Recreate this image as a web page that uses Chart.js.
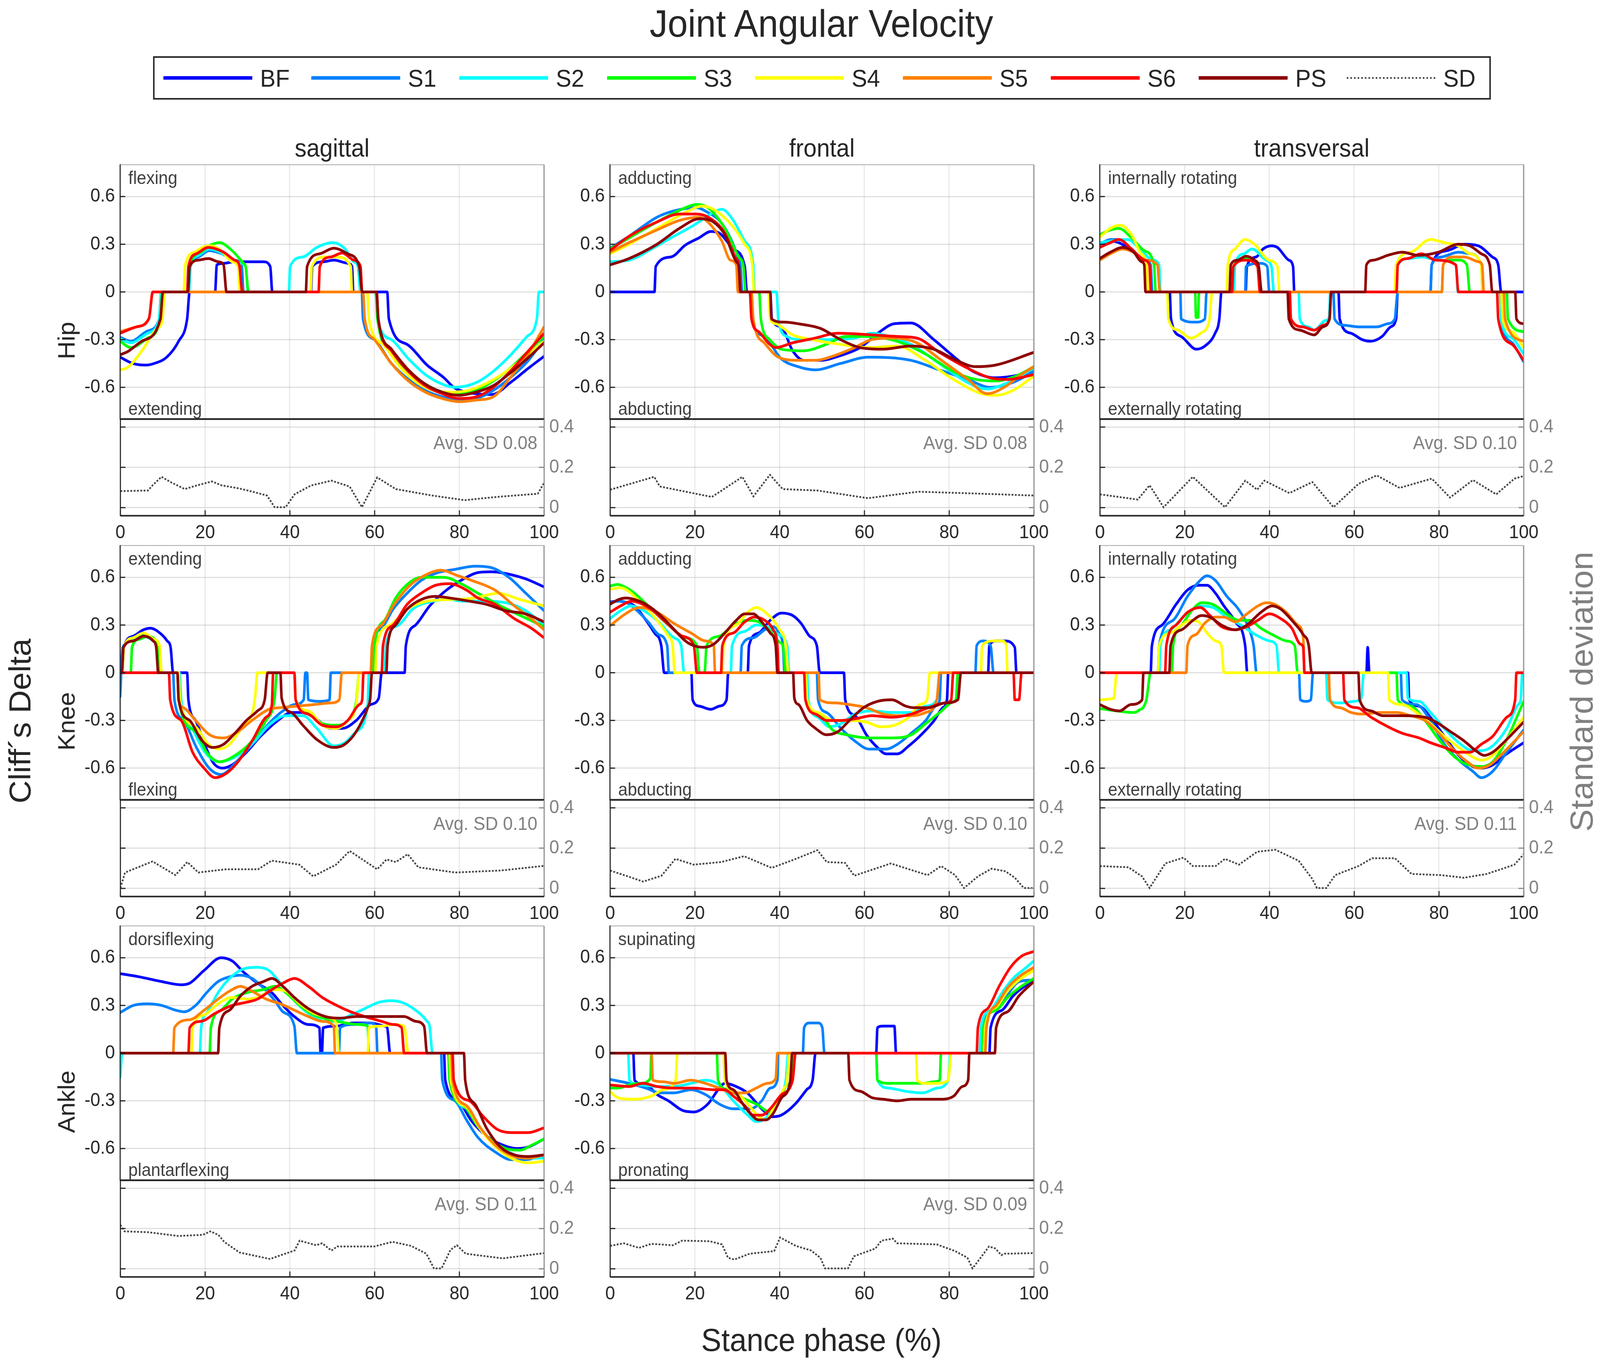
<!DOCTYPE html>
<html><head><meta charset="utf-8">
<script src="https://cdn.jsdelivr.net/npm/chart.js@4.4.0/dist/chart.umd.min.js"></script>
<style>
html,body{margin:0;padding:0;background:#fff;overflow:hidden;}
#page{position:relative;width:4338px;height:3495px;overflow:hidden;background:#fff;font-family:"Liberation Sans",Arial,Helvetica,sans-serif;color:#262626;transform-origin:0 0;}
.abs{position:absolute;white-space:nowrap;line-height:1;}
canvas{position:absolute;}
</style></head><body><div id="page"></div>
<script>
// ---------------- DATA ----------------
const seriesNames = ['BF','S1','S2','S3','S4','S5','S6','PS'];
const xTicks = [0,20,40,60,80,100];
const yTicksMain = [-0.6,-0.3,0,0.3,0.6];
const yTicksSD = [0,0.2,0.4];
const columnNames = ['sagittal','frontal','transversal'];
const rowNames = ['Hip','Knee','Ankle'];
const directionTop = ['flexing','adducting','internally rotating','extending','adducting','internally rotating','dorsiflexing','supinating'];
const directionBottom = ['extending','abducting','externally rotating','flexing','abducting','externally rotating','plantarflexing','pronating'];
const avgSD = ['0.08','0.08','0.10','0.10','0.10','0.11','0.11','0.09'];

// Hip sagittal
const hs_BF = [[0,-0.41],[3,-0.45],[6,-0.46],[8,-0.45],[11,-0.41],[13.8,-0.31],[15.8,-0.17],[16.4,0],[22.4,0],[22.8,0.17],[24.5,0.18],[27,0.19],[31,0.19],[33.8,0.19],[35.4,0.16],[35.9,0],[45,0],[45.3,0.16],[48,0.19],[50.4,0.2],[53.7,0.18],[54.7,0.16],[55,0],[63,0],[63.4,-0.17],[67.7,-0.33],[72.4,-0.46],[76.4,-0.54],[78.7,-0.6],[81.7,-0.63],[87.7,-0.645],[92.3,-0.565],[96.3,-0.48],[100,-0.405]];
const hs_S1 = [[0,-0.285],[2.5,-0.31],[6.5,-0.245],[9.2,-0.17],[9.7,0],[16.2,0],[16.6,0.16],[18.5,0.22],[21,0.26],[24,0.24],[27,0.2],[28.7,0.16],[29.1,0],[57,0],[57.3,-0.17],[60,-0.3],[64,-0.45],[68,-0.55],[72,-0.62],[76,-0.66],[80,-0.68],[84,-0.67],[88,-0.62],[92,-0.54],[96,-0.44],[100,-0.3]];
const hs_S2 = [[0,-0.295],[2.5,-0.32],[6.5,-0.26],[9.2,-0.17],[9.7,0],[16.2,0],[16.6,0.16],[18.5,0.23],[21,0.27],[25,0.23],[28.5,0.18],[29.6,0.16],[30.2,0],[39.8,0],[40.1,0.16],[43.1,0.22],[46.4,0.28],[50.1,0.31],[53.1,0.27],[55.1,0.19],[56.1,0.16],[56.7,0],[60.3,0],[60.7,-0.17],[64,-0.3],[68,-0.42],[72,-0.52],[76,-0.58],[79,-0.6],[84,-0.57],[88,-0.5],[92,-0.4],[96,-0.28],[98.3,-0.17],[98.8,0],[100,0]];
const hs_S3 = [[0,-0.31],[2.5,-0.35],[6.5,-0.29],[9.5,-0.17],[10,0],[16,0],[16.4,0.16],[19,0.25],[21,0.29],[23.4,0.31],[26.4,0.26],[29.1,0.18],[29.6,0.16],[30.3,0],[60.3,0],[60.7,-0.17],[64,-0.38],[68,-0.5],[72,-0.58],[76,-0.63],[80,-0.64],[84,-0.62],[88,-0.56],[92,-0.48],[96,-0.38],[100,-0.28]];
const hs_S4 = [[0,-0.49],[1.8,-0.475],[5,-0.375],[8.5,-0.235],[10,-0.17],[10.5,0],[15,0],[15.3,0.16],[17.5,0.25],[19.8,0.285],[21.5,0.29],[23.8,0.26],[26.4,0.19],[27.8,0.16],[28.3,0],[44.9,0],[45.2,0.16],[48.4,0.22],[51.1,0.22],[54.4,0.16],[54.7,0],[58.3,0],[58.7,-0.17],[62,-0.33],[66,-0.47],[70,-0.57],[74,-0.62],[78,-0.63],[82,-0.62],[86,-0.58],[90,-0.52],[95,-0.42],[100,-0.31]];
const hs_S5 = [[0,-0.25],[3.8,-0.22],[6.8,-0.167],[7.7,0],[57.3,0],[57.7,-0.17],[60,-0.3],[64,-0.45],[68,-0.56],[72,-0.63],[76,-0.67],[80,-0.69],[84,-0.68],[88,-0.66],[92,-0.54],[96,-0.4],[100,-0.22]];
const hs_S6 = [[0,-0.26],[3.8,-0.22],[6.8,-0.167],[7.7,0],[15.8,0],[16.1,0.16],[18,0.24],[20.8,0.28],[24.4,0.25],[27,0.2],[28.1,0.17],[28.8,0],[46.8,0],[47.1,0.16],[49.7,0.22],[52.4,0.245],[55.1,0.2],[56.7,0.16],[57.1,0],[60.5,0],[60.9,-0.17],[64,-0.37],[68,-0.5],[72,-0.59],[76,-0.64],[80,-0.67],[84,-0.66],[88,-0.6],[92,-0.5],[96,-0.38],[100,-0.26]];
const hs_PS = [[0,-0.395],[1.8,-0.375],[5.1,-0.31],[9.5,-0.17],[10.1,0],[16,0],[16.4,0.16],[18.5,0.2],[20.8,0.21],[23.1,0.19],[24.4,0.17],[25.1,0],[43.8,0],[44.1,0.16],[47.1,0.24],[50.4,0.275],[53.7,0.24],[56.4,0.16],[57.1,0],[60.5,0],[60.9,-0.17],[64,-0.36],[68,-0.49],[72,-0.58],[76,-0.63],[80,-0.65],[84,-0.63],[88,-0.59],[92,-0.51],[96,-0.42],[100,-0.32]];
const hs_SD = [[0,0.082],[6.5,0.085],[7.6,0.111],[9.7,0.153],[12,0.125],[15.2,0.092],[18,0.11],[21.6,0.13],[23.8,0.111],[28.1,0.095],[31,0.08],[34.6,0.06],[36.4,0.002],[39,0.002],[41.1,0.066],[45,0.11],[49.8,0.134],[54.1,0.105],[57,0.002],[60.6,0.15],[65,0.092],[73.6,0.06],[81.2,0.037],[88.7,0.053],[98.5,0.069],[100,0.124]];

// Hip frontal
const hf_BF = [[0,0],[10.5,0],[10.8,0.16],[14.4,0.22],[17.8,0.295],[21,0.34],[23.8,0.38],[25.8,0.37],[29.1,0.27],[31.8,0.16],[32.3,0],[37.8,0],[38.2,-0.17],[40.4,-0.22],[43.1,-0.37],[45.7,-0.43],[49.7,-0.43],[54.4,-0.4],[59,-0.35],[63.7,-0.25],[67,-0.2],[71,-0.195],[76.4,-0.3],[81.7,-0.42],[85.7,-0.5],[91,-0.54],[95,-0.53],[100,-0.5]];
const hf_S1 = [[0,0.275],[4.5,0.35],[11.1,0.47],[15.1,0.51],[20.4,0.53],[23.1,0.5],[25.8,0.45],[28.4,0.34],[30.4,0.2],[30.8,0.16],[31.2,0],[33,0],[33.4,-0.17],[36.4,-0.28],[40.4,-0.42],[44.4,-0.47],[48.4,-0.49],[54.4,-0.45],[61,-0.41],[71,-0.43],[77.7,-0.49],[84.4,-0.55],[89.7,-0.6],[95,-0.57],[100,-0.5]];
const hf_S2 = [[0,0.19],[4.5,0.2],[11.1,0.29],[14.4,0.34],[19.8,0.42],[24.4,0.5],[26.4,0.52],[29.1,0.45],[31.8,0.32],[33.8,0.17],[34.1,0],[39.3,0],[39.7,-0.17],[41.7,-0.28],[45.7,-0.3],[51,-0.3],[57.7,-0.29],[61.7,-0.26],[64.4,-0.27],[71,-0.33],[77.7,-0.45],[84.4,-0.57],[89,-0.61],[93,-0.58],[100,-0.48]];
const hf_S3 = [[0,0.27],[4.5,0.34],[11.1,0.44],[17.8,0.53],[20.4,0.55],[23.1,0.53],[27.1,0.4],[30.4,0.22],[31.5,0.16],[32,0],[35.2,0],[35.6,-0.17],[37.7,-0.3],[40.4,-0.36],[45.7,-0.37],[51,-0.33],[55.7,-0.28],[61,-0.28],[67.7,-0.31],[74.4,-0.39],[81,-0.5],[86.3,-0.55],[91,-0.56],[95.7,-0.53],[100,-0.47]];
const hf_S4 = [[0,0.24],[4.5,0.3],[11.1,0.4],[17.8,0.5],[21.8,0.54],[24.4,0.52],[28.4,0.43],[31.8,0.3],[33.6,0.17],[34,0],[37.4,0],[37.8,-0.17],[39.1,-0.2],[43.1,-0.27],[47.7,-0.3],[54.4,-0.33],[61,-0.35],[67.7,-0.34],[74.4,-0.43],[81,-0.55],[87.7,-0.64],[91,-0.65],[95,-0.62],[100,-0.53]];
const hf_S5 = [[0,0.25],[4.5,0.31],[11.1,0.39],[16.4,0.45],[21.1,0.47],[23.1,0.44],[26.4,0.32],[28.4,0.2],[29.8,0.17],[30.2,0],[33.4,0],[33.8,-0.17],[36.4,-0.32],[39.7,-0.41],[44.4,-0.43],[48.4,-0.43],[53,-0.4],[57.7,-0.35],[61.7,-0.3],[67,-0.29],[72.4,-0.32],[77.7,-0.42],[84.4,-0.55],[89,-0.64],[93,-0.6],[97,-0.52],[100,-0.47]];
const hf_S6 = [[0,0.26],[4.5,0.35],[11.1,0.44],[16.4,0.49],[20.4,0.49],[23.8,0.46],[27.1,0.37],[29.5,0.22],[30.4,0.16],[30.8,0],[33,0],[33.4,-0.17],[35.1,-0.25],[37.7,-0.33],[39.1,-0.35],[43.1,-0.32],[48.4,-0.29],[53.7,-0.26],[61.7,-0.27],[67.7,-0.28],[72.4,-0.29],[77.7,-0.38],[84.4,-0.48],[89.7,-0.54],[94,-0.55],[100,-0.52]];
const hf_PS = [[0,0.17],[4.5,0.21],[11.1,0.3],[16.4,0.4],[21.1,0.46],[24.4,0.44],[27.1,0.36],[29.8,0.19],[30.4,0.16],[30.8,0],[37.8,0],[38.1,-0.17],[41.1,-0.19],[44.4,-0.2],[49.7,-0.23],[54.4,-0.3],[59,-0.35],[64.4,-0.36],[71,-0.34],[76.4,-0.36],[81.7,-0.43],[86.3,-0.47],[91,-0.46],[100,-0.38]];
const hf_SD = [[0,0.089],[10.4,0.153],[11.7,0.105],[24,0.053],[31.2,0.153],[33.8,0.056],[37.7,0.163],[40.7,0.092],[48.9,0.085],[60.8,0.047],[72.7,0.079],[83.5,0.072],[100,0.06]];

// Hip transversal
const ht_BF = [[0,0.3],[2.5,0.32],[4.5,0.31],[7.5,0.26],[10.5,0.2],[11.8,0.17],[12.2,0],[16.5,0],[16.8,-0.17],[19.2,-0.28],[22.8,-0.36],[24.8,-0.34],[27.2,-0.26],[28.2,-0.17],[28.7,0],[34.4,0],[34.7,0.16],[36.9,0.22],[38.5,0.27],[40.5,0.29],[41.9,0.28],[44.6,0.2],[45.6,0.16],[45.9,0],[56.3,0],[56.6,-0.17],[59.3,-0.26],[61.9,-0.3],[63.9,-0.31],[66.6,-0.28],[68.6,-0.22],[69.9,-0.17],[70.3,0],[78,0],[78.3,0.17],[82,0.26],[86,0.3],[89.3,0.29],[92.6,0.22],[94,0.17],[94.7,0],[100,0]];
const ht_S1 = [[0,0.3],[2.5,0.33],[4.5,0.33],[7.5,0.27],[10.5,0.2],[12,0.17],[12.4,0],[19,0],[19.2,-0.17],[22.5,-0.19],[24.8,-0.17],[25.2,0],[34.3,0],[34.5,0.16],[37.9,0.18],[39.5,0.16],[40,0],[55.1,0],[55.4,-0.17],[57.9,-0.21],[61.3,-0.22],[65.3,-0.22],[67.9,-0.2],[69.6,-0.17],[70.3,0],[78,0],[78.3,0.17],[80.6,0.22],[84.6,0.25],[87.3,0.24],[90,0.17],[90.3,0],[94.4,0],[94.7,-0.17],[97.3,-0.32],[100,-0.44]];
const ht_S2 = [[0,0.31],[2.5,0.32],[6.5,0.33],[9.5,0.27],[12.5,0.2],[14,0.17],[14.3,0],[31.6,0],[31.9,0.17],[34,0.24],[35.9,0.27],[39.2,0.2],[40.5,0.16],[41.1,0],[46.9,0],[47.2,-0.17],[49.2,-0.22],[50.6,-0.24],[53.2,-0.18],[54.1,-0.16],[54.4,0],[70,0],[70.3,0.17],[73,0.21],[76,0.22],[80,0.2],[84,0.17],[84.5,0],[94.4,0],[94.7,-0.17],[97.3,-0.29],[100,-0.39]];
const ht_S3 = [[0,0.36],[2.5,0.39],[4.5,0.4],[7.5,0.34],[10.5,0.26],[12.8,0.17],[13.2,0],[22.5,0],[22.7,-0.16],[23.2,-0.16],[23.4,0],[31.2,0],[31.5,0.16],[34.5,0.21],[36.5,0.19],[37.5,0.16],[37.9,0],[80.7,0],[81,0.17],[82.7,0.2],[84.6,0.2],[86.6,0.17],[87.3,0],[96,0],[96.3,-0.17],[100,-0.25]];
const ht_S4 = [[0,0.344],[2.5,0.4],[4.8,0.42],[7.5,0.36],[9.5,0.25],[11,0.17],[11.5,0],[15.9,0],[16.2,-0.17],[18.5,-0.24],[21.5,-0.29],[23.8,-0.26],[25.9,-0.17],[26.5,0],[29.9,0],[30.2,0.17],[31.9,0.27],[34.2,0.33],[36.5,0.3],[39.9,0.2],[41.9,0.16],[42.4,0],[69.6,0],[69.9,0.17],[73.3,0.25],[78,0.33],[81.3,0.31],[84.6,0.29],[87.3,0.24],[90,0.17],[90.3,0],[94.7,0],[95,-0.17],[97.3,-0.25],[100,-0.35]];
const ht_S5 = [[0,0.2],[2.5,0.24],[5.4,0.27],[8,0.25],[11,0.2],[13.6,0.17],[14.2,0],[80.7,0],[81,0.17],[83.3,0.22],[86,0.22],[89.3,0.19],[90.2,0.17],[90.6,0],[95.3,0],[95.6,-0.17],[100,-0.31]];
const ht_S6 = [[0,0.28],[2.5,0.31],[4.5,0.33],[7.5,0.27],[10.5,0.2],[11.7,0.17],[12.1,0],[31.2,0],[31.5,0.16],[34.5,0.2],[37.2,0.16],[37.8,0],[44.8,0],[45.1,-0.17],[47.9,-0.22],[50.6,-0.24],[52.6,-0.21],[54.2,-0.17],[54.6,0],[70,0],[70.3,0.17],[72.6,0.21],[75.9,0.24],[79.3,0.2],[84,0.17],[84.6,0],[93.7,0],[94,-0.17],[97.3,-0.33],[100,-0.43]];
const ht_PS = [[0,0.21],[2.5,0.25],[5.4,0.28],[8,0.25],[9.8,0.19],[10.5,0.17],[10.8,0],[30.6,0],[30.9,0.17],[32.5,0.2],[34.5,0.225],[36.5,0.2],[37.5,0.16],[38.2,0],[44.3,0],[44.6,-0.17],[47.2,-0.24],[50.6,-0.27],[52.6,-0.22],[54.2,-0.17],[54.6,0],[62.6,0],[62.9,0.17],[64.6,0.2],[67.9,0.23],[71.3,0.25],[75.3,0.23],[79.9,0.25],[84.6,0.3],[87.3,0.29],[90,0.24],[92,0.17],[92.6,0],[98,0],[98.3,-0.17],[100,-0.2]];
const ht_SD = [[0,0.066],[8.9,0.04],[11.7,0.111],[15,0.002],[21.9,0.153],[29.5,0.002],[34.3,0.134],[37.1,0.089],[38.8,0.134],[44.7,0.072],[50.1,0.127],[55.1,0.002],[61,0.118],[65.3,0.16],[70.7,0.098],[78.3,0.144],[82.6,0.05],[88,0.137],[93.5,0.066],[97.8,0.144],[100,0.157]];

// Knee sagittal
const ks_BF = [[0,0],[0.5,0],[0.9,0.16],[3.1,0.23],[5.5,0.27],[7.1,0.28],[9.8,0.24],[11.1,0.2],[11.9,0.16],[12.5,0],[15.8,0],[16.1,-0.17],[17.8,-0.3],[19.8,-0.44],[21.8,-0.56],[24.1,-0.6],[26.4,-0.58],[29.8,-0.5],[33.1,-0.4],[37.7,-0.29],[40.4,-0.25],[43.1,-0.25],[45.7,-0.28],[49.7,-0.35],[52.4,-0.35],[55.7,-0.3],[59.1,-0.2],[61,-0.16],[61.7,0],[67.1,0],[67.4,0.17],[69.7,0.3],[73,0.42],[77,0.52],[81,0.59],[84.4,0.63],[87.7,0.635],[91.7,0.62],[95.7,0.59],[100,0.54]];
const ks_S1 = [[0,-0.15],[0.6,0.16],[3.1,0.2],[5.5,0.24],[7.8,0.2],[8.6,0.16],[9,0],[12.5,0],[12.8,-0.17],[15,-0.3],[18,-0.47],[21,-0.6],[23.8,-0.64],[27.8,-0.55],[31.1,-0.45],[35.1,-0.32],[38.4,-0.24],[41.1,-0.2],[43.3,-0.17],[43.7,0],[44.1,0],[44.4,-0.17],[47.1,-0.18],[49.4,-0.17],[49.7,0],[59.4,0],[59.7,0.17],[61.7,0.28],[64.4,0.4],[67.7,0.5],[71,0.58],[75,0.63],[79,0.65],[83.7,0.67],[87.7,0.66],[91.7,0.6],[95.7,0.5],[100,0.39]];
const ks_S2 = [[0,0],[0.5,0],[0.9,0.16],[3.1,0.21],[5.5,0.23],[8,0.2],[9.2,0.16],[9.6,0],[14,0],[14.4,-0.17],[17,-0.35],[20,-0.5],[23.4,-0.56],[27.1,-0.53],[31.1,-0.45],[35.1,-0.33],[39.1,-0.27],[43.1,-0.27],[46.4,-0.35],[50.4,-0.46],[53,-0.44],[55.7,-0.37],[58.4,-0.2],[58.7,0],[62.4,0],[62.7,0.17],[65.7,0.3],[69,0.4],[73.7,0.45],[77.7,0.46],[81,0.45],[85,0.45],[91,0.44],[95.7,0.39],[100,0.3]];
const ks_S3 = [[0,0],[2.5,0],[2.8,0.16],[4.5,0.21],[6.5,0.23],[8.5,0.2],[9.1,0.16],[9.5,0],[13.5,0],[13.8,-0.17],[17.8,-0.37],[20.4,-0.5],[23.4,-0.56],[27.1,-0.52],[31.1,-0.43],[34.4,-0.3],[36.4,-0.17],[37,0],[41.1,0],[41.4,-0.17],[44.4,-0.25],[47.7,-0.32],[51,-0.33],[53.7,-0.3],[55.7,-0.18],[56.4,0],[59.7,0],[60,0.17],[62.4,0.33],[65,0.47],[68.4,0.57],[71,0.6],[76.4,0.6],[80.4,0.56],[84.4,0.5],[89.7,0.42],[94.4,0.36],[100,0.29]];
const ks_S4 = [[0,0],[0.5,0],[0.9,0.16],[3.1,0.22],[5.5,0.25],[8,0.21],[9.3,0.17],[9.8,0],[13.8,0],[14.1,-0.17],[17.8,-0.34],[20.8,-0.45],[23.4,-0.48],[25.8,-0.45],[29.1,-0.33],[31.1,-0.26],[31.8,-0.16],[32.4,0],[41.1,0],[41.4,-0.17],[44.4,-0.24],[47.7,-0.33],[51,-0.35],[53.7,-0.3],[55.7,-0.2],[56.4,0],[60.2,0],[60.5,0.17],[63.7,0.3],[67.7,0.4],[72.4,0.45],[77.7,0.46],[83.7,0.47],[89,0.5],[94.4,0.46],[100,0.42]];
const ks_S5 = [[0,0],[13.5,0],[13.8,-0.17],[15,-0.22],[17.8,-0.3],[21.1,-0.39],[24.4,-0.41],[27.8,-0.37],[31.1,-0.3],[35.1,-0.23],[37.7,-0.22],[41.7,-0.21],[45.8,-0.2],[49.7,-0.19],[51.7,-0.17],[52.3,0],[59.1,0],[59.4,0.17],[61.7,0.3],[64.4,0.42],[68.4,0.55],[71.7,0.61],[75.7,0.645],[79.7,0.61],[83,0.58],[88.4,0.52],[93,0.42],[97,0.34],[100,0.27]];
const ks_S6 = [[0,0],[11.5,0],[11.8,-0.17],[14.4,-0.3],[17.1,-0.5],[19.8,-0.6],[22.4,-0.66],[25.2,-0.63],[27.8,-0.56],[31.1,-0.43],[34.4,-0.28],[35.8,-0.2],[36.1,0],[41.1,0],[41.4,-0.17],[44.4,-0.26],[47.7,-0.33],[51,-0.34],[53.7,-0.3],[56.4,-0.2],[57.1,-0.17],[57.4,0],[61.7,0],[62,0.17],[64.4,0.3],[67.7,0.43],[71,0.5],[74.4,0.55],[77.7,0.56],[81.7,0.52],[84.4,0.47],[88.4,0.43],[93,0.34],[97,0.28],[100,0.22]];
const ks_PS = [[0,0],[0.4,0],[0.8,0.16],[3.1,0.2],[5.5,0.23],[7.8,0.2],[8.5,0.16],[9,0],[13.5,0],[13.8,-0.17],[16.4,-0.3],[19.1,-0.42],[21.8,-0.47],[24.4,-0.45],[27.1,-0.38],[29.8,-0.3],[32.4,-0.24],[34.1,-0.17],[34.8,0],[37.8,0],[38.1,-0.16],[40.4,-0.25],[43.1,-0.33],[46.4,-0.42],[50.4,-0.47],[53,-0.45],[55.7,-0.37],[58.4,-0.22],[59,-0.16],[59.4,0],[62.8,0],[63.1,0.17],[65,0.3],[67.7,0.4],[71,0.46],[74.4,0.48],[77.7,0.47],[82.4,0.45],[86.4,0.43],[91,0.39],[95.7,0.37],[100,0.32]];
const ks_SD = [[0,0.002],[1.1,0.079],[7.6,0.134],[13,0.066],[15.8,0.131],[18.4,0.079],[24.9,0.095],[32.5,0.095],[35.7,0.138],[42.2,0.118],[45.5,0.06],[50.9,0.118],[54.1,0.186],[60.6,0.095],[62.8,0.144],[65,0.131],[67.8,0.17],[70.3,0.105],[79,0.079],[89.8,0.089],[100,0.112]];

// Knee frontal
const kf_BF = [[0,0.445],[2,0.45],[4,0.44],[5.8,0.42],[8.5,0.33],[10.5,0.25],[12.1,0.17],[12.8,0],[19.2,0],[19.5,-0.17],[21.1,-0.21],[23.8,-0.23],[25.8,-0.21],[27.5,-0.17],[27.9,0],[32.5,0],[32.8,0.17],[35.1,0.25],[37.8,0.33],[40.5,0.375],[43.1,0.36],[45.1,0.31],[47.1,0.23],[48.8,0.17],[49.5,0],[55.2,0],[55.5,-0.17],[57.8,-0.27],[60.5,-0.39],[63.1,-0.47],[65.1,-0.51],[67.8,-0.51],[70.5,-0.46],[73.8,-0.38],[76.5,-0.3],[78.5,-0.22],[79.5,-0.17],[79.8,0],[89.2,0],[89.5,0.17],[91.1,0.2],[93.1,0.2],[95.5,0.16],[95.9,0],[100,0]];
const kf_S1 = [[0,0.44],[2,0.45],[4,0.44],[6,0.4],[9,0.32],[11.5,0.24],[13.5,0.17],[13.9,0],[30.8,0],[31.1,0.17],[33.8,0.22],[36.5,0.27],[38.5,0.29],[40,0.24],[40.8,0.17],[41.2,0],[48.8,0],[49.1,-0.17],[51.1,-0.25],[54.5,-0.35],[57.8,-0.43],[61.1,-0.48],[65.1,-0.48],[67.8,-0.45],[71.1,-0.38],[74.5,-0.3],[77.1,-0.2],[77.8,-0.17],[78.1,0],[86.2,0],[86.5,0.17],[88.1,0.2],[89.8,0.17],[90.5,0],[100,0]];
const kf_S2 = [[0,0.34],[2.5,0.39],[5,0.42],[8,0.39],[11.1,0.33],[15.1,0.22],[16.8,0.17],[17.5,0],[28.5,0],[28.8,0.17],[31.8,0.26],[34.5,0.3],[37.1,0.29],[39.8,0.24],[41.8,0.17],[42.3,0],[46.5,0],[46.8,-0.17],[49.1,-0.28],[51.8,-0.34],[54.5,-0.32],[57.8,-0.26],[61.8,-0.24],[66.5,-0.25],[71.1,-0.25],[74.5,-0.21],[77.1,-0.17],[77.8,0],[100,0]];
const kf_S3 = [[0,0.545],[1.8,0.555],[3.5,0.54],[5.8,0.5],[9.8,0.4],[13.8,0.3],[17.8,0.22],[20.5,0.17],[21.1,0],[22.3,0],[22.8,0.17],[25.8,0.23],[29.1,0.3],[32.5,0.33],[35.1,0.32],[37.8,0.26],[40.1,0.19],[40.8,0.17],[41.5,0],[46.2,0],[46.5,-0.17],[49.8,-0.27],[52.5,-0.36],[55.8,-0.39],[61.1,-0.41],[66.5,-0.41],[71.1,-0.39],[74.5,-0.32],[77.8,-0.25],[81.1,-0.18],[81.6,-0.17],[82.1,0],[100,0]];
const kf_S4 = [[0,0.525],[2.5,0.535],[4.5,0.51],[6.5,0.46],[10.5,0.35],[13.8,0.23],[14.8,0.17],[15.3,0],[26.5,0],[26.8,0.17],[29.8,0.3],[32.5,0.38],[34.5,0.41],[37.1,0.37],[39.8,0.28],[41.5,0.17],[42.1,0],[46.2,0],[46.5,-0.17],[49.1,-0.25],[52.5,-0.3],[55.8,-0.3],[60.5,-0.31],[63.8,-0.34],[67.1,-0.33],[70.5,-0.28],[73.1,-0.2],[74.8,-0.17],[75.5,0],[87.5,0],[87.8,0.17],[90.5,0.2],[92.5,0.2],[93.5,0.17],[93.8,0],[100,0]];
const kf_S5 = [[0,0.295],[3.1,0.36],[5.5,0.4],[7.1,0.41],[11.1,0.38],[15.1,0.31],[19.1,0.25],[22.5,0.2],[24.5,0.17],[24.8,0],[49.2,0],[49.5,-0.17],[53.1,-0.19],[56.5,-0.2],[60.5,-0.22],[64.5,-0.26],[68.5,-0.27],[71.1,-0.27],[74.5,-0.25],[77.1,-0.17],[77.8,0],[100,0]];
const kf_S6 = [[0,0.38],[2.5,0.42],[5.1,0.45],[9.1,0.41],[13.1,0.32],[17.1,0.23],[19.8,0.17],[20.5,0],[26.2,0],[26.5,0.17],[29.1,0.25],[31.8,0.32],[34.1,0.35],[36.5,0.33],[38.5,0.27],[39.5,0.17],[39.8,0],[45.8,0],[46.1,-0.17],[48.5,-0.26],[51.1,-0.3],[54.5,-0.3],[57.8,-0.29],[61.8,-0.27],[66.5,-0.28],[71.1,-0.26],[75.1,-0.22],[79.1,-0.19],[80.5,-0.17],[81,0],[95.2,0],[95.5,-0.17],[96.5,-0.17],[97.1,0],[100,0]];
const kf_PS = [[0,0.43],[2,0.46],[3.8,0.47],[7.8,0.44],[11.1,0.38],[14.5,0.29],[17.8,0.2],[19.8,0.17],[22.1,0.16],[24.5,0.18],[27.1,0.25],[29.8,0.33],[31.8,0.37],[33.8,0.37],[35.8,0.32],[37.8,0.25],[39.1,0.17],[39.5,0],[43.2,0],[43.5,-0.16],[44.5,-0.2],[46.5,-0.3],[48.5,-0.35],[51.1,-0.39],[53.8,-0.37],[56.5,-0.3],[59.8,-0.22],[63.1,-0.18],[66.5,-0.17],[69.8,-0.21],[71.8,-0.22],[75.1,-0.22],[79.1,-0.19],[82.1,-0.17],[82.8,0],[100,0]];
const kf_SD = [[0,0.089],[7.8,0.034],[12.1,0.063],[15.4,0.147],[19.7,0.118],[26.2,0.131],[31.6,0.16],[38.1,0.102],[43.5,0.144],[48.9,0.19],[51.1,0.131],[55.4,0.127],[57.6,0.063],[66.2,0.124],[74.9,0.066],[78.1,0.111],[81.4,0.066],[83.5,0.002],[86.8,0.06],[90,0.098],[93.3,0.085],[95.5,0.053],[97.6,0.002],[100,0.002]];

// Knee transversal
const kt_BF = [[0,0],[12,0],[12.3,0.17],[14.7,0.3],[18,0.43],[20.7,0.52],[23.3,0.55],[25.3,0.55],[27.3,0.5],[29.3,0.42],[32,0.32],[34.3,0.17],[34.8,0],[62.9,0],[63.2,0.16],[63.6,0],[72.7,0],[73,-0.17],[75.3,-0.21],[78,-0.28],[81.3,-0.4],[84.7,-0.52],[88,-0.59],[90,-0.6],[92.7,-0.58],[96,-0.51],[100,-0.44]];
const kt_S1 = [[0,0],[13.7,0],[14,0.17],[17.3,0.33],[20.7,0.48],[23.3,0.57],[25.3,0.61],[27.3,0.58],[30,0.48],[32.7,0.4],[35.3,0.27],[36.3,0.17],[37,0],[47,0],[47.3,-0.17],[48.7,-0.18],[49.8,-0.17],[50.3,0],[71,0],[71.3,-0.17],[74.7,-0.2],[78,-0.3],[81.3,-0.45],[84.7,-0.55],[88,-0.62],[90,-0.66],[92.7,-0.62],[96,-0.5],[100,-0.36]];
const kt_S2 = [[0,0],[14,0],[14.3,0.17],[16.7,0.27],[20,0.36],[24,0.42],[26.7,0.41],[30,0.35],[33.3,0.3],[36.7,0.24],[40,0.2],[41.7,0.17],[42.3,0],[53.4,0],[53.7,-0.17],[56.7,-0.19],[60,-0.18],[61.7,-0.16],[62.3,0],[72.4,0],[72.7,-0.16],[75.3,-0.18],[78,-0.25],[81.3,-0.35],[84.7,-0.44],[88,-0.49],[90,-0.49],[92.7,-0.46],[96,-0.35],[98.7,-0.2],[99.3,-0.17],[99.7,0],[100,0]];
const kt_S3 = [[0,-0.225],[4,-0.24],[8,-0.25],[9,-0.24],[11,-0.17],[12,0],[17,0],[17.3,0.17],[19.3,0.3],[22,0.4],[24,0.44],[26.7,0.43],[30,0.37],[32.7,0.33],[35.3,0.33],[38,0.28],[40.7,0.24],[44,0.2],[46,0.17],[46.7,0],[70,0],[70.3,-0.17],[73.3,-0.21],[76.7,-0.3],[80,-0.42],[83.3,-0.52],[86,-0.57],[90,-0.59],[92.7,-0.56],[96,-0.42],[100,-0.18]];
const kt_S4 = [[0,-0.17],[3.3,-0.16],[4,0],[13.7,0],[14,0.17],[16.7,0.25],[19.3,0.3],[21.3,0.33],[23.3,0.32],[25.3,0.25],[27.3,0.2],[28.7,0.17],[29.3,0],[68,0],[68.3,-0.17],[71.3,-0.2],[74.7,-0.25],[78,-0.32],[81.3,-0.4],[84.7,-0.47],[88,-0.53],[90,-0.55],[92.7,-0.52],[96,-0.42],[100,-0.28]];
const kt_S5 = [[0,0],[20.4,0],[20.7,0.17],[22.7,0.24],[24.7,0.31],[27.3,0.35],[29.3,0.35],[32,0.32],[34.7,0.37],[37.3,0.42],[39.3,0.44],[41.3,0.43],[44,0.38],[46.7,0.3],[48,0.22],[48.3,0],[54,0],[54.3,-0.17],[56.7,-0.22],[59.3,-0.25],[62,-0.26],[66,-0.25],[70,-0.25],[73.3,-0.27],[76.7,-0.3],[80,-0.38],[83.3,-0.48],[86.7,-0.56],[89.3,-0.6],[92,-0.58],[95.3,-0.5],[100,-0.37]];
const kt_S6 = [[0,0],[15.4,0],[15.7,0.17],[18,0.3],[20.7,0.38],[23.7,0.41],[26,0.36],[28.7,0.29],[32,0.27],[34.7,0.29],[37.3,0.33],[40,0.37],[42.7,0.34],[45.3,0.28],[47.3,0.18],[48,0.16],[48.3,0],[57.4,0],[57.7,-0.17],[60.7,-0.22],[64,-0.28],[68,-0.34],[71.3,-0.38],[75.3,-0.41],[78,-0.44],[81.3,-0.47],[84.7,-0.5],[87.3,-0.5],[90,-0.45],[92.7,-0.4],[96,-0.28],[98,-0.17],[98.3,0],[100,0]];
const kt_PS = [[0,-0.2],[2.5,-0.23],[4.7,-0.24],[7.3,-0.2],[10,-0.17],[10.3,0],[16.4,0],[16.7,0.17],[19.3,0.27],[22,0.33],[24,0.36],[26,0.35],[28.7,0.3],[32,0.27],[34.7,0.3],[38,0.38],[40.7,0.42],[42.7,0.4],[45.3,0.33],[48,0.24],[49.3,0.17],[50,0],[61,0],[61.3,-0.17],[64,-0.24],[66.7,-0.27],[71.3,-0.27],[76.7,-0.28],[79.3,-0.31],[82.7,-0.37],[86,-0.43],[88.7,-0.49],[90.7,-0.52],[92.7,-0.5],[96,-0.42],[100,-0.31]];
const kt_SD = [[0,0.111],[6.7,0.105],[9.9,0.06],[11.7,0.002],[15.4,0.124],[19.7,0.153],[21.9,0.111],[27.3,0.111],[29.5,0.147],[32.8,0.118],[37.1,0.182],[41.4,0.192],[46.9,0.137],[50.1,0.047],[51.2,0.002],[53.4,0.002],[55.5,0.066],[61,0.111],[64.2,0.15],[69.6,0.15],[73.5,0.072],[80.5,0.066],[85.9,0.053],[91.3,0.072],[97.8,0.118],[100,0.17]];

// Ankle sagittal
const as_BF = [[0,0.5],[4.5,0.48],[9.8,0.45],[14.4,0.43],[16.4,0.44],[19.8,0.52],[23.8,0.6],[26.4,0.58],[29.1,0.51],[32.4,0.44],[35.8,0.38],[38.4,0.3],[41.1,0.23],[44.4,0.18],[47,0.16],[47.3,0],[47.6,0],[47.9,0.16],[51.1,0.17],[55,0.19],[59,0.19],[62.4,0.17],[63,0.16],[63.7,0],[76.4,0],[76.7,-0.17],[79.7,-0.3],[83,-0.43],[86.4,-0.52],[90.4,-0.58],[93.7,-0.6],[96.3,-0.59],[100,-0.54]];
const as_S1 = [[0,0.255],[3.1,0.3],[6.5,0.31],[9.8,0.3],[13.1,0.27],[15.1,0.26],[17.8,0.3],[20.4,0.38],[23.1,0.45],[25.8,0.48],[28.4,0.49],[31.1,0.47],[33.8,0.41],[36.5,0.33],[38.4,0.26],[41.1,0.17],[41.7,0],[51.6,0],[51.9,0.16],[55,0.18],[59,0.19],[60.4,0.16],[60.7,0],[75.7,0],[76,-0.17],[79,-0.3],[81.7,-0.42],[84.4,-0.53],[88.4,-0.62],[92.3,-0.67],[95.6,-0.67],[100,-0.64]];
const as_S2 = [[0,-0.15],[0.5,0],[18.8,0],[19.1,0.16],[20.4,0.25],[23.1,0.38],[25.8,0.47],[29.1,0.53],[32.4,0.54],[35.1,0.52],[37.8,0.44],[41.1,0.33],[44.4,0.25],[48.4,0.2],[51.1,0.2],[54.4,0.24],[57.7,0.28],[61.1,0.32],[63.7,0.33],[66.4,0.32],[69.7,0.27],[72.4,0.2],[73,0.17],[73.7,0],[77.7,0],[78,-0.17],[81.7,-0.35],[85,-0.48],[89,-0.58],[92.3,-0.63],[95.6,-0.66],[100,-0.66]];
const as_S3 = [[0,0],[21.1,0],[21.4,0.16],[23.8,0.27],[26.4,0.34],[29.8,0.38],[33.8,0.4],[36.5,0.42],[39.1,0.38],[42.4,0.3],[45.7,0.24],[49.7,0.21],[53.1,0.19],[56.4,0.18],[58.4,0.17],[58.7,0],[77.4,0],[77.7,-0.17],[81,-0.33],[84.4,-0.46],[87.7,-0.55],[91,-0.6],[94.4,-0.61],[97,-0.58],[100,-0.54]];
const as_S4 = [[0,0],[16.8,0],[17.1,0.16],[19.8,0.24],[23.1,0.31],[26.4,0.35],[29.8,0.34],[32.4,0.35],[36.5,0.4],[39.1,0.39],[42.4,0.31],[45.7,0.25],[49.7,0.22],[51.1,0.17],[51.6,0],[58.4,0],[58.7,0.16],[61.7,0.17],[64.4,0.18],[67,0.17],[68,0],[77.7,0],[78,-0.17],[81.7,-0.34],[85,-0.48],[89,-0.6],[93,-0.67],[96.3,-0.69],[100,-0.68]];
const as_S5 = [[0,0],[12.5,0],[12.8,0.16],[16.4,0.21],[19.8,0.27],[23.1,0.34],[25.8,0.39],[28.4,0.42],[31.1,0.39],[34.4,0.34],[37.8,0.31],[41.1,0.27],[44.4,0.23],[47.7,0.2],[50.4,0.17],[50.7,0],[78.1,0],[78.4,-0.17],[81.7,-0.33],[85,-0.47],[89,-0.59],[93,-0.65],[96.3,-0.66],[100,-0.64]];
const as_S6 = [[0,0],[16.1,0],[16.4,0.16],[19.1,0.2],[22.4,0.25],[26.4,0.3],[29.8,0.32],[32.4,0.34],[35.8,0.4],[38.4,0.44],[41.1,0.47],[44.4,0.42],[47.7,0.35],[51.1,0.3],[54.4,0.26],[57.7,0.23],[61.7,0.2],[64.4,0.18],[66.4,0.16],[67,0],[78.4,0],[78.7,-0.17],[82.4,-0.3],[85.7,-0.4],[89,-0.48],[92.3,-0.5],[96.3,-0.5],[100,-0.47]];
const as_PS = [[0,0],[23.1,0],[23.4,0.16],[25.8,0.27],[28.4,0.36],[31.1,0.42],[33.8,0.45],[35.8,0.47],[38.4,0.42],[41.1,0.35],[44.4,0.28],[48.4,0.23],[51.8,0.22],[55.7,0.23],[61.1,0.23],[64.4,0.23],[67,0.23],[69.7,0.2],[71.7,0.17],[72.4,0],[81.1,0],[81.4,-0.17],[83.7,-0.32],[86.4,-0.47],[89.7,-0.59],[93,-0.64],[96.3,-0.65],[100,-0.64]];
const as_SD = [[0,0.218],[1,0.186],[6.5,0.182],[13.7,0.163],[19.5,0.169],[21.2,0.186],[23.1,0.169],[24.5,0.134],[28.1,0.081],[35.3,0.049],[41.1,0.091],[42.3,0.14],[46.2,0.117],[47.6,0.127],[49.8,0.091],[51.2,0.111],[59.9,0.111],[64.2,0.134],[68.6,0.114],[72.2,0.075],[74,0.002],[75.8,0.002],[77.9,0.094],[79.4,0.117],[81.5,0.075],[90.2,0.052],[100,0.078]];

// Ankle frontal
const af_BF = [[0,0],[5.5,0],[5.8,-0.17],[8.5,-0.2],[11.1,-0.26],[13.8,-0.3],[17.1,-0.36],[19.8,-0.37],[23.1,-0.32],[25.8,-0.22],[27.1,-0.19],[29.8,-0.21],[32.4,-0.25],[35.8,-0.35],[38.4,-0.4],[40.4,-0.39],[43.7,-0.32],[46.4,-0.23],[47.8,-0.17],[48.5,0],[62.8,0],[63.1,0.16],[64.4,0.17],[67.1,0.17],[67.5,0],[89.5,0],[89.8,0.16],[92.5,0.27],[95.1,0.36],[97.8,0.42],[100,0.45]];
const af_S1 = [[0,-0.165],[4.5,-0.19],[8.5,-0.22],[11.8,-0.25],[15.1,-0.25],[19.1,-0.23],[22.5,-0.26],[25.8,-0.32],[29.1,-0.35],[33.1,-0.35],[35.8,-0.3],[37.8,-0.22],[39.5,-0.17],[39.7,0],[45.5,0],[45.8,0.16],[47.1,0.19],[49.1,0.19],[50.1,0.16],[50.6,0],[87.5,0],[87.8,0.16],[91.1,0.28],[93.8,0.37],[96.5,0.45],[100,0.46]];
const af_S2 = [[0,0],[4.3,0],[4.6,-0.17],[7.1,-0.2],[11.1,-0.21],[15.1,-0.21],[19.1,-0.19],[22.5,-0.17],[25.8,-0.2],[29.1,-0.3],[32.5,-0.39],[34.5,-0.43],[37.1,-0.4],[39.5,-0.3],[41.5,-0.17],[42.1,0],[62.8,0],[63.1,-0.17],[65.8,-0.22],[69.8,-0.24],[73.8,-0.25],[77.1,-0.22],[79.8,-0.17],[80.3,0],[87.2,0],[87.5,0.16],[89.8,0.27],[92.5,0.38],[95.1,0.47],[97.8,0.53],[100,0.58]];
const af_S3 = [[0,-0.22],[1.8,-0.22],[4.5,-0.2],[7.1,-0.19],[9.5,-0.16],[9.8,0],[25.2,0],[25.5,-0.17],[27.8,-0.23],[31.1,-0.28],[34.5,-0.32],[37.8,-0.37],[39.8,-0.3],[41.8,-0.2],[42.8,-0.17],[43.1,0],[62.8,0],[63.1,-0.17],[65.8,-0.19],[69.8,-0.19],[73.8,-0.19],[76.5,-0.18],[77.8,-0.17],[78.1,0],[87.8,0],[88.1,0.16],[91.1,0.27],[93.8,0.35],[96.5,0.41],[100,0.47]];
const af_S4 = [[0,-0.24],[1.8,-0.28],[5.8,-0.29],[9.8,-0.27],[12.5,-0.23],[15.5,-0.17],[15.9,0],[26.8,0],[27.1,-0.17],[29.8,-0.25],[32.5,-0.32],[35.1,-0.4],[36.8,-0.42],[38.5,-0.35],[41.1,-0.22],[41.8,-0.17],[42.3,0],[72.2,0],[72.5,-0.17],[74.5,-0.19],[77.1,-0.19],[79.8,-0.17],[80.5,0],[88.2,0],[88.5,0.16],[91.1,0.29],[93.8,0.39],[96.5,0.46],[100,0.52]];
const af_S5 = [[0,0],[9.8,0],[10.1,-0.17],[12.5,-0.18],[15.1,-0.19],[19.1,-0.17],[22.5,-0.19],[25.8,-0.22],[29.1,-0.25],[31.8,-0.25],[34.5,-0.22],[37.1,-0.19],[39.1,-0.16],[39.5,0],[88.5,0],[88.8,0.16],[91.1,0.3],[93.8,0.41],[96.5,0.48],[100,0.54]];
const af_S6 = [[0,-0.2],[4.5,-0.21],[7.8,-0.19],[11.1,-0.21],[15.1,-0.22],[19.8,-0.22],[24.5,-0.23],[27.1,-0.23],[29.1,-0.27],[31.8,-0.33],[33.8,-0.39],[35.8,-0.39],[37.8,-0.35],[40.5,-0.26],[43.1,-0.17],[43.8,0],[86.5,0],[86.8,0.16],[89.1,0.28],[91.8,0.42],[94.5,0.54],[97.1,0.61],[100,0.64]];
const af_PS = [[0,0],[27.2,0],[27.5,-0.17],[29.1,-0.23],[31.1,-0.31],[33.1,-0.38],[35.1,-0.42],[36.8,-0.42],[38.5,-0.38],[40.5,-0.28],[42.5,-0.18],[43,0],[56.2,0],[56.5,-0.17],[59.1,-0.24],[61.8,-0.28],[64.5,-0.29],[67.8,-0.3],[71.1,-0.29],[75.1,-0.29],[78.5,-0.29],[81.1,-0.27],[83.1,-0.21],[84.5,-0.17],[84.8,0],[90.8,0],[91.1,0.16],[93.8,0.26],[96.5,0.36],[100,0.45]];
const af_SD = [[0,0.114],[3.2,0.127],[6.8,0.104],[9.7,0.124],[14.8,0.117],[17,0.14],[23.5,0.137],[26.4,0.121],[27.8,0.055],[29.3,0.046],[32.9,0.075],[38.7,0.088],[40.1,0.156],[43.8,0.114],[47.4,0.091],[49.6,0.055],[50.7,0.002],[56.1,0.002],[57.5,0.062],[62.6,0.101],[64,0.14],[66.7,0.15],[67.7,0.127],[77.1,0.121],[81.4,0.088],[84.3,0.055],[85.5,0.002],[87.2,0.049],[89.4,0.111],[90.9,0.101],[92.3,0.068],[93,0.075],[100,0.078]];

// ---------------- STYLE / LAYOUT ----------------
const seriesColors = ['#0000ff','#0080ff','#00ffff','#00ff00','#ffff00','#ff8000','#ff0000','#8c0000'];
const FONT = "'Liberation Sans', Arial, Helvetica, sans-serif";
const GRID = 'rgba(38,38,38,0.15)';
const colLeft = [326, 1654, 2982];
const rowTop = [422, 1397, 2371];
const plotW = 1149, mainH = 651, sdH = 248;
const PAGE_W = 4338, PAGE_H = 3495;

const panels = [
  {row:0,col:0,series:[hs_BF,hs_S1,hs_S2,hs_S3,hs_S4,hs_S5,hs_S6,hs_PS],sd:hs_SD},
  {row:0,col:1,series:[hf_BF,hf_S1,hf_S2,hf_S3,hf_S4,hf_S5,hf_S6,hf_PS],sd:hf_SD},
  {row:0,col:2,series:[ht_BF,ht_S1,ht_S2,ht_S3,ht_S4,ht_S5,ht_S6,ht_PS],sd:ht_SD},
  {row:1,col:0,series:[ks_BF,ks_S1,ks_S2,ks_S3,ks_S4,ks_S5,ks_S6,ks_PS],sd:ks_SD},
  {row:1,col:1,series:[kf_BF,kf_S1,kf_S2,kf_S3,kf_S4,kf_S5,kf_S6,kf_PS],sd:kf_SD},
  {row:1,col:2,series:[kt_BF,kt_S1,kt_S2,kt_S3,kt_S4,kt_S5,kt_S6,kt_PS],sd:kt_SD},
  {row:2,col:0,series:[as_BF,as_S1,as_S2,as_S3,as_S4,as_S5,as_S6,as_PS],sd:as_SD},
  {row:2,col:1,series:[af_BF,af_S1,af_S2,af_S3,af_S4,af_S5,af_S6,af_PS],sd:af_SD}
];

const page = document.getElementById('page');
// stretch the fixed-size page so it fills the actual viewport
(function () {
  const vw = window.innerWidth || document.documentElement.clientWidth || PAGE_W;
  const vh = window.innerHeight || document.documentElement.clientHeight || PAGE_H;
  const sx = vw / PAGE_W, sy = vh / PAGE_H;
  if (sx > 0 && sy > 0 && (Math.abs(sx - 1) > 0.002 || Math.abs(sy - 1) > 0.002)) page.style.transform = 'scale(' + sx + ',' + sy + ')';
})();

function addText(txt, x, y, size, opt) {
  opt = opt || {};
  const d = document.createElement('div');
  d.className = 'abs';
  d.textContent = txt;
  d.style.fontSize = size + 'px';
  d.style.color = opt.color || '#262626';
  let tr = '';
  if (opt.anchor === 'center') { d.style.left = x + 'px'; d.style.top = y + 'px'; tr = 'translate(-50%,-50%)'; }
  else if (opt.anchor === 'midleft') { d.style.left = x + 'px'; d.style.top = y + 'px'; tr = 'translate(0,-50%)'; }
  else if (opt.anchor === 'right') { d.style.left = x + 'px'; d.style.top = (y - 0.8465 * size) + 'px'; tr = 'translate(-100%,0)'; }
  else { d.style.left = x + 'px'; d.style.top = (y - 0.8465 * size) + 'px'; }
  if (opt.rotate) tr += ' rotate(-90deg)';
  d.style.transform = tr;
  page.appendChild(d);
  return d;
}

const fmtTick = v => (Math.abs(v) < 1e-9 ? '0' : (Number.isInteger(v) ? String(v) : v.toFixed(1)));

const framePlugin = {
  id: 'frame',
  afterDatasetsDraw(chart, args, o) {
    const ctx = chart.ctx, a = chart.chartArea;
    const line = (x1, y1, x2, y2, c, w) => { ctx.beginPath(); ctx.strokeStyle = c; ctx.lineWidth = w; ctx.moveTo(x1, y1); ctx.lineTo(x2, y2); ctx.stroke(); };
    ctx.save();
    const ys = chart.scales.y;
    ys.ticks.forEach(t => {
      const py = ys.getPixelForValue(t.value);
      line(a.left, py, a.left + 14, py, o.left, 3);
      if (o.rightTicks) line(a.right - 14, py, a.right, py, o.right, 3);
    });
    if (o.xTicks) {
      const xs = chart.scales.x;
      xs.ticks.forEach(t => { const px = xs.getPixelForValue(t.value); line(px, a.bottom, px, a.bottom - 14, o.bottom, 3); });
    }
    line(a.left, a.top, a.right, a.top, o.top, o.topW);
    line(a.right, a.top, a.right, a.bottom, o.right, 3);
    line(a.left, a.bottom, a.right, a.bottom, o.bottom, o.bottomW);
    line(a.left, a.top - 1, a.left, a.bottom + 1, o.left, 3);
    ctx.restore();
  }
};

function fitChart(chart, canvas, L, T, W, H) {
  for (let k = 0; k < 4; k++) {
    const a = chart.chartArea;
    const dw = W - (a.right - a.left), dh = H - (a.bottom - a.top);
    if (Math.abs(dw) < 0.5 && Math.abs(dh) < 0.5) break;
    chart.resize(Math.round(chart.width + dw), Math.round(chart.height + dh));
  }
  const a = chart.chartArea;
  canvas.style.left = (L - a.left) + 'px';
  canvas.style.top = (T - a.top) + 'px';
}

function newCanvas(w, h) {
  const c = document.createElement('canvas');
  c.width = w; c.height = h;
  page.appendChild(c);
  return c;
}

const baseOpts = () => ({
  responsive: false, maintainAspectRatio: false, animation: false, devicePixelRatio: 1,
  plugins: { legend: { display: false }, tooltip: { enabled: false } }
});

panels.forEach((p, idx) => {
  const L = colLeft[p.col], T = rowTop[p.row];
  // main chart
  const c1 = newCanvas(plotW + 200, mainH + 80);
  const o1 = baseOpts();
  o1.layout = { padding: { left: 4, top: 6, right: 8, bottom: 6 } };
  o1.plugins.frame = { left: '#262626', right: '#8a8a8a', top: '#a8a8a8', topW: 2, bottom: '#262626', bottomW: 4, rightTicks: false, xTicks: false };
  o1.scales = {
    x: { type: 'linear', min: 0, max: 100,
         afterBuildTicks: s => { s.ticks = xTicks.map(v => ({ value: v })); },
         ticks: { display: false }, grid: { color: GRID, lineWidth: 2, drawTicks: false }, border: { display: false },
         afterFit: s => { s.height = 0; } },
    y: { type: 'linear', min: -0.8, max: 0.8,
         afterBuildTicks: s => { s.ticks = yTicksMain.map(v => ({ value: v })); },
         ticks: { font: { family: FONT, size: 48 }, color: '#262626', padding: 14, autoSkip: false, callback: v => fmtTick(v) },
         grid: { color: GRID, lineWidth: 3, drawTicks: false }, border: { display: false } }
  };
  const ch1 = new Chart(c1, {
    type: 'line',
    data: { datasets: p.series.map((d, i) => ({ label: seriesNames[i], data: d, borderColor: seriesColors[i], backgroundColor: seriesColors[i], borderWidth: 7, pointRadius: 0, cubicInterpolationMode: 'monotone', fill: false, order: 7 - i, borderJoinStyle: 'round', borderCapStyle: 'round' })) },
    options: o1, plugins: [framePlugin]
  });
  fitChart(ch1, c1, L, T, plotW, mainH);

  // SD chart
  const c2 = newCanvas(plotW + 300, sdH + 140);
  const o2 = baseOpts();
  o2.layout = { padding: { left: 10, top: 6, right: 4, bottom: 4 } };
  o2.plugins.frame = { left: '#262626', right: '#8a8a8a', top: '#262626', topW: 4, bottom: '#262626', bottomW: 4, rightTicks: true, xTicks: true };
  o2.scales = {
    x: { type: 'linear', min: 0, max: 100,
         afterBuildTicks: s => { s.ticks = xTicks.map(v => ({ value: v })); },
         ticks: { font: { family: FONT, size: 48 }, color: '#262626', padding: 16, maxRotation: 0, autoSkip: false, callback: v => fmtTick(v) },
         grid: { color: GRID, lineWidth: 2, drawTicks: false }, border: { display: false } },
    y: { type: 'linear', position: 'right', min: -0.04, max: 0.44,
         afterBuildTicks: s => { s.ticks = yTicksSD.map(v => ({ value: v })); },
         ticks: { font: { family: FONT, size: 48 }, color: '#808080', padding: 14, autoSkip: false, callback: v => fmtTick(v) },
         grid: { color: GRID, lineWidth: 3, drawTicks: false }, border: { display: false } }
  };
  const ch2 = new Chart(c2, {
    type: 'line',
    data: { datasets: [{ label: 'SD', data: p.sd, borderColor: '#444444', borderWidth: 4.5, borderDash: [5, 4], pointRadius: 0, tension: 0, fill: false }] },
    options: o2, plugins: [framePlugin]
  });
  fitChart(ch2, c2, L, T + mainH, plotW, sdH);

  // annotations
  addText(directionTop[idx], L + 22, T + 49, 46, { color: '#404040' });
  addText(directionBottom[idx], L + 22, T + mainH - 11, 46, { color: '#404040' });
  addText('Avg. SD ' + avgSD[idx], L + plotW - 18, T + mainH + 78, 48, { anchor: 'right', color: '#808080' });
});

// ---------------- TEXT / LEGEND ----------------
addText('Joint Angular Velocity', 2227, 60, 98, { anchor: 'center' });

const lg = document.createElement('div');
lg.style.cssText = 'position:absolute;left:415px;top:144px;width:3627px;height:111px;border:4px solid #262626;box-sizing:border-box;background:#fff;';
page.insertBefore(lg, page.firstChild);
const legendNames = seriesNames.concat(['SD']);
legendNames.forEach((n, i) => {
  const lx = 443 + i * 401;
  const ln = document.createElement('div');
  if (i < 8) {
    ln.style.cssText = `position:absolute;left:${lx}px;top:195px;width:241px;height:9px;background:${seriesColors[i]};`;
  } else {
    ln.style.cssText = `position:absolute;left:${lx}px;top:197px;width:241px;height:0;border-top:5px dotted #444;`;
  }
  page.appendChild(ln);
  addText(n, lx + 262, 200, 63, { anchor: 'midleft' });
});

columnNames.forEach((n, i) => addText(n, colLeft[i] + plotW / 2, 379, 64, { anchor: 'center' }));
rowNames.forEach((n, i) => addText(n, 180, rowTop[i] + (mainH + sdH) / 2, 64, { anchor: 'center', rotate: true }));
addText('Cliff\u00B4s Delta', 55, 1846, 82, { anchor: 'center', rotate: true });
addText('Standard deviation', 4288, 1771, 86, { anchor: 'center', rotate: true, color: '#808080' });
addText('Stance phase (%)', 2227, 3431, 82, { anchor: 'center' });
</script>
</body></html>
